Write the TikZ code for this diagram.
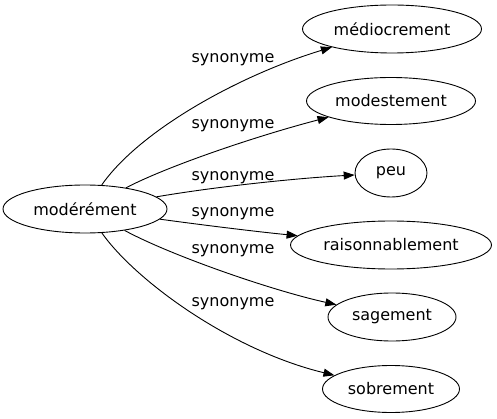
\documentclass[tikz,border=0pt]{standalone}
\usepackage{fontspec}
\setmainfont{DejaVu Sans}
\usetikzlibrary{shapes.geometric,arrows.meta}
\begin{document}
\begin{tikzpicture}[x=1pt,y=-1pt,
  word/.style={draw,ellipse,inner sep=0pt,line width=0.9pt,font=\fontsize{16}{18}\selectfont},
  lbl/.style={inner sep=0pt,font=\fontsize{16}{18}\selectfont},
  edge/.style={line width=0.9pt,-{Triangle[length=11pt,width=8pt]}}]
\useasboundingbox (0,0) rectangle (497,419);
\node[word,minimum width=164pt,minimum height=48pt] (src) at (85,209) {modérément};
\node[word,minimum width=179pt,minimum height=48pt] (t1) at (392,29) {médiocrement};
\node[word,minimum width=169pt,minimum height=47pt] (t2) at (391,101) {modestement};
\node[word,minimum width=72pt,minimum height=48pt] (t3) at (391,173) {peu};
\node[word,minimum width=201pt,minimum height=48pt] (t4) at (391,245) {raisonnablement};
\node[word,minimum width=128pt,minimum height=48pt] (t5) at (392,317) {sagement};
\node[word,minimum width=137pt,minimum height=47pt] (t6) at (391,389) {sobrement};
\node[lbl] (l1) at (233,60) {synonyme};
\node[lbl] (l2) at (233,126) {synonyme};
\node[lbl] (l3) at (233,178) {synonyme};
\node[lbl] (l4) at (233,214) {synonyme};
\node[lbl] (l5) at (233,251) {synonyme};
\node[lbl] (l6) at (233,304) {synonyme};
\draw[edge] (src) .. controls (140,130) and (240,75) .. (t1);
\draw[edge] (src) .. controls (170,165) and (260,135) .. (t2);
\draw[edge] (src) .. controls (220,186) and (300,178) .. (t3);
\draw[edge] (src) .. controls (210,226) and (260,232) .. (t4);
\draw[edge] (src) .. controls (170,255) and (270,290) .. (t5);
\draw[edge] (src) .. controls (135,280) and (230,350) .. (t6);
\end{tikzpicture}
\end{document}
